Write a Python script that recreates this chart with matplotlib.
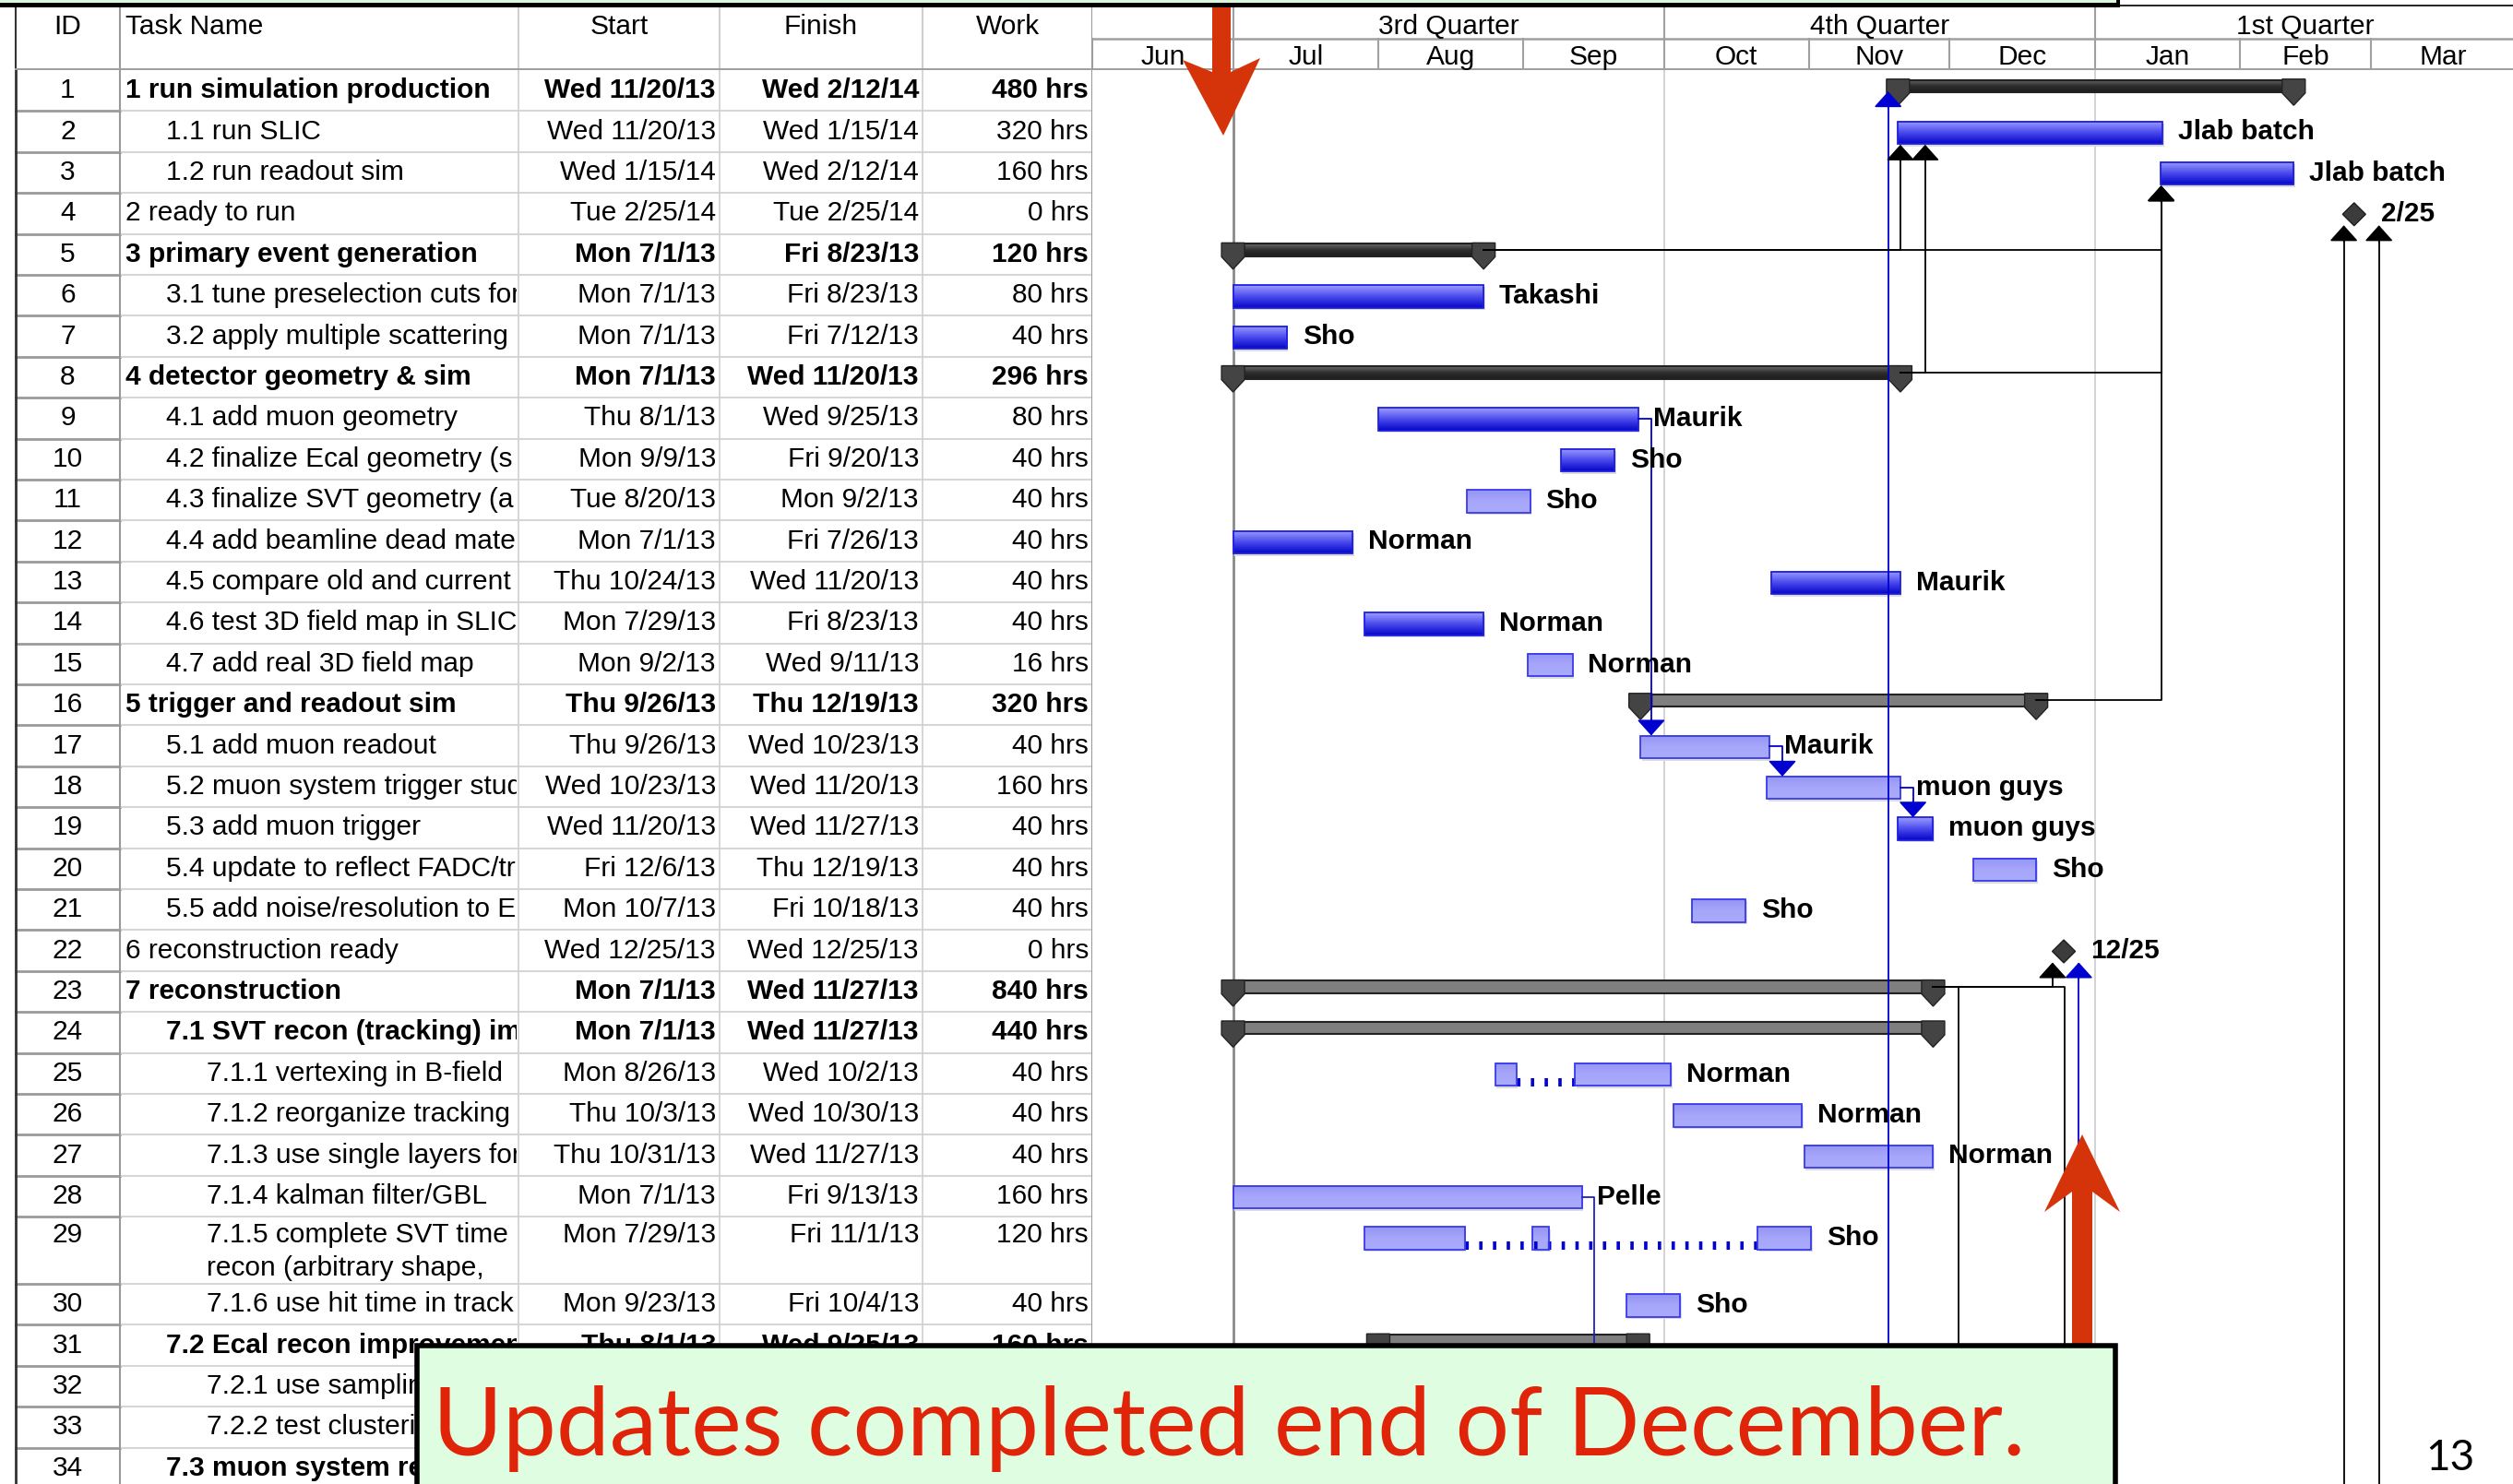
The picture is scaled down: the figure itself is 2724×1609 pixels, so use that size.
import datetime as dt
import numpy as np
import matplotlib
matplotlib.use('Agg')
import matplotlib.pyplot as plt
import matplotlib.dates as mdates
from matplotlib.colors import LinearSegmentedColormap
from matplotlib.patches import Rectangle, Polygon

plt.rcParams['font.family'] = ['Liberation Sans', 'DejaVu Sans']

# ---------------- data ----------------
task_names = [
    '1 run simulation production', '1.1 run SLIC', '1.2 run readout sim', '2 ready to run',
    '3 primary event generation', '3.1 tune preselection cuts for', '3.2 apply multiple scattering',
    '4 detector geometry & sim', '4.1 add muon geometry', '4.2 finalize Ecal geometry (s',
    '4.3 finalize SVT geometry (a', '4.4 add beamline dead mater', '4.5 compare old and current',
    '4.6 test 3D field map in SLIC', '4.7 add real 3D field map', '5 trigger and readout sim',
    '5.1 add muon readout', '5.2 muon system trigger stud', '5.3 add muon trigger',
    '5.4 update to reflect FADC/tr', '5.5 add noise/resolution to E', '6 reconstruction ready',
    '7 reconstruction', '7.1 SVT recon (tracking) im', '7.1.1 vertexing in B-field',
    '7.1.2 reorganize tracking', '7.1.3 use single layers for', '7.1.4 kalman filter/GBL',
    '7.1.5 complete SVT time\nrecon (arbitrary shape,', '7.1.6 use hit time in track',
    '7.2 Ecal recon improvemen', '7.2.1 use sampling', '7.2.2 test clustering', '7.3 muon system recon',
]
levels = [0, 1, 1, 0, 0, 1, 1, 0, 1, 1, 1, 1, 1, 1, 1, 0, 1, 1, 1, 1, 1, 0, 0, 1,
          2, 2, 2, 2, 2, 2, 1, 2, 2, 1]
start_txt = [
    'Wed 11/20/13', 'Wed 11/20/13', 'Wed 1/15/14', 'Tue 2/25/14', 'Mon 7/1/13', 'Mon 7/1/13',
    'Mon 7/1/13', 'Mon 7/1/13', 'Thu 8/1/13', 'Mon 9/9/13', 'Tue 8/20/13', 'Mon 7/1/13',
    'Thu 10/24/13', 'Mon 7/29/13', 'Mon 9/2/13', 'Thu 9/26/13', 'Thu 9/26/13', 'Wed 10/23/13',
    'Wed 11/20/13', 'Fri 12/6/13', 'Mon 10/7/13', 'Wed 12/25/13', 'Mon 7/1/13', 'Mon 7/1/13',
    'Mon 8/26/13', 'Thu 10/3/13', 'Thu 10/31/13', 'Mon 7/1/13', 'Mon 7/29/13', 'Mon 9/23/13',
    'Thu 8/1/13', '', '', '',
]
finish_txt = [
    'Wed 2/12/14', 'Wed 1/15/14', 'Wed 2/12/14', 'Tue 2/25/14', 'Fri 8/23/13', 'Fri 8/23/13',
    'Fri 7/12/13', 'Wed 11/20/13', 'Wed 9/25/13', 'Fri 9/20/13', 'Mon 9/2/13', 'Fri 7/26/13',
    'Wed 11/20/13', 'Fri 8/23/13', 'Wed 9/11/13', 'Thu 12/19/13', 'Wed 10/23/13', 'Wed 11/20/13',
    'Wed 11/27/13', 'Thu 12/19/13', 'Fri 10/18/13', 'Wed 12/25/13', 'Wed 11/27/13', 'Wed 11/27/13',
    'Wed 10/2/13', 'Wed 10/30/13', 'Wed 11/27/13', 'Fri 9/13/13', 'Fri 11/1/13', 'Fri 10/4/13',
    'Wed 9/25/13', '', '', '',
]
work_txt = [
    '480 hrs', '320 hrs', '160 hrs', '0 hrs', '120 hrs', '80 hrs', '40 hrs', '296 hrs', '80 hrs',
    '40 hrs', '40 hrs', '40 hrs', '40 hrs', '40 hrs', '16 hrs', '320 hrs', '40 hrs', '160 hrs',
    '40 hrs', '40 hrs', '40 hrs', '0 hrs', '840 hrs', '440 hrs', '40 hrs', '40 hrs', '40 hrs',
    '160 hrs', '120 hrs', '40 hrs', '160 hrs', '', '', '',
]
bold_rows = [1, 5, 8, 16, 23, 24, 31, 34]

bar_kind = [
    'sum_dark', 'dark', 'dark', 'mile', 'sum_dark', 'dark', 'dark', 'sum_dark', 'dark', 'dark',
    'light', 'dark', 'dark', 'dark', 'light', 'sum_gray', 'light', 'light', 'dark', 'light',
    'light', 'mile', 'sum_gray', 'sum_gray', 'light', 'light', 'light', 'light', 'light', 'light',
    'sum_gray', None, None, None,
]
resources = [
    '', 'Jlab batch', 'Jlab batch', '', '', 'Takashi', 'Sho', '', 'Maurik', 'Sho', 'Sho', 'Norman',
    'Maurik', 'Norman', 'Norman', '', 'Maurik', 'muon guys', 'muon guys', 'Sho', 'Sho', '', '', '',
    'Norman', 'Norman', 'Norman', 'Pelle', 'Sho', 'Sho', '', '', '', '',
]
split_parts = {
    25: [('8/26/13', '8/30/13'), ('9/12/13', '10/2/13')],
    29: [('7/29/13', '8/19/13'), ('9/3/13', '9/6/13'), ('10/21/13', '11/1/13')],
}
# links: (from row, to row, turn date, fraction of day, colour)
links = [
    (None, 1, '11/17/13', 0.9, '#0000d0'),
    (5, 2, '11/20/13', 0.5, 'black'),
    (8, 2, '11/25/13', 0.8, 'black'),
    (5, 3, '1/15/14', 0.2, 'black'),
    (8, 3, '1/15/14', 0.2, 'black'),
    (16, 3, '1/15/14', 0.2, 'black'),
    (None, 4, '2/23/14', 0.2, 'black'),
    (None, 4, '3/2/14', 0.7, 'black'),
    (9, 17, '9/28/13', 0.3, '#0000d0'),
    (17, 18, '10/26/13', 0.3, '#0000d0'),
    (18, 19, '11/23/13', 0.2, '#0000d0'),
    (23, 22, '12/23/13', 0.0, 'black'),
    (None, 22, '12/28/13', 0.6, '#0000d0'),
    (23, None, '12/2/13', 0.9, 'black'),
    (23, None, '12/25/13', 0.6, 'black'),
    (28, None, '9/16/13', 0.2, '#2020c0'),
]
quarters = [('3rd Quarter', '7/1/13', '10/1/13'), ('4th Quarter', '10/1/13', '1/1/14'),
            ('1st Quarter', '1/1/14', '4/1/14')]
months = ['Jun', 'Jul', 'Aug', 'Sep', 'Oct', 'Nov', 'Dec', 'Jan', 'Feb', 'Mar']
month_starts = ['6/1/13', '7/1/13', '8/1/13', '9/1/13', '10/1/13', '11/1/13', '12/1/13',
                '1/1/14', '2/1/14', '3/1/14', '4/1/14']

# ---------------- helpers ----------------
W, H = 2724, 1609
PX_DAY = 5.076


def fbox(x0, y0, x1, y1):
    return [x0 / W, 1 - y1 / H, (x1 - x0) / W, (y1 - y0) / H]


def num(s):
    m, d, y = s.split()[-1].split('/')
    return mdates.date2num(dt.datetime(2000 + int(y), int(m), int(d)))


row_h = [1.0] * 34
row_h[28] = 1.64
tops = np.concatenate([[0], np.cumsum(row_h)[:-1]])
YMAX = (H - 76) / 44.4

fig = plt.figure(figsize=(W / 100, H / 100), dpi=100, facecolor='white')

# ---------------- table ----------------
cols = [17, 130, 562, 780, 1000, 1184]
FS = 21.5
ax_h = fig.add_axes(fbox(0, 8, 1184, 76))
ax_h.set_xlim(0, 1184)
ax_h.set_ylim(68, 0)
ax_h.axis('off')
for x, c in zip(cols, ['#333333', '#999999', '#cfcfcf', '#cfcfcf', '#cfcfcf', '#999999']):
    ax_h.plot([x, x], [0, 68], color=c, lw=1.5)
ax_h.plot([17, 1184], [67, 67], color='#a0a0a0', lw=2.2)
ax_h.text(73.5, 21, 'ID', ha='center', va='center', fontsize=FS)
ax_h.text(136, 21, 'Task Name', ha='left', va='center', fontsize=FS)
ax_h.text(671, 21, 'Start', ha='center', va='center', fontsize=FS)
ax_h.text(890, 21, 'Finish', ha='center', va='center', fontsize=FS)
ax_h.text(1092, 21, 'Work', ha='center', va='center', fontsize=FS)

ax_t = fig.add_axes(fbox(0, 76, 1184, H))
ax_t.set_xlim(0, 1184)
ax_t.set_ylim(YMAX, 0)
ax_t.axis('off')
# task names live in their own axes so that they are cut at the column edge
ax_n = fig.add_axes(fbox(cols[1] + 2, 76, cols[2] - 2, H))
ax_n.set_xlim(cols[1] + 2, cols[2] - 2)
ax_n.set_ylim(YMAX, 0)
ax_n.axis('off')
for i in range(34):
    top, bot = tops[i], tops[i] + row_h[i]
    ax_t.plot([17, 130], [bot, bot], color='#9a9a9a', lw=2)
    ax_t.plot([130, 1184], [bot, bot], color='#d6d6d6', lw=1.5)
    w = 'bold' if (i + 1) in bold_rows else 'normal'
    yc = top + 0.5 if row_h[i] == 1 else top + 0.45
    ax_t.text(73.5, yc, str(i + 1), ha='center', va='center', fontsize=FS)
    for k, line in enumerate(task_names[i].split('\n')):
        ax_n.text(136 + 44 * levels[i], yc + 0.8 * k, line, ha='left', va='center',
                  fontsize=FS, fontweight=w, clip_on=True)
    ax_t.text(cols[3] - 4, yc, start_txt[i], ha='right', va='center', fontsize=FS, fontweight=w)
    ax_t.text(cols[4] - 4, yc, finish_txt[i], ha='right', va='center', fontsize=FS, fontweight=w)
    ax_t.text(cols[5] - 4, yc, work_txt[i], ha='right', va='center', fontsize=FS, fontweight=w)
for x, c, lw in zip(cols, ['#333333', '#999999', '#d0d0d0', '#d0d0d0', '#d0d0d0', '#999999'],
                    [2, 1.5, 1.2, 1.2, 1.2, 1.5]):
    ax_t.plot([x, x], [0, YMAX], color=c, lw=lw)

# ---------------- gantt ----------------
X0 = num('6/1/13') - 0.06
X1 = X0 + (W - 1184) / PX_DAY

ax_gh = fig.add_axes(fbox(1184, 8, W, 76))
ax_gh.set_xlim(X0, X1)
ax_gh.set_ylim(2, 0)
ax_gh.axis('off')
ax_gh.plot([X0, X1], [1, 1], color='#a0a0a0', lw=1.8)
ax_gh.plot([X0, X1], [1.98, 1.98], color='#a0a0a0', lw=2.2)
for name, a, b in quarters:
    ax_gh.plot([num(a), num(a)], [0, 1], color='#a0a0a0', lw=1.5)
    ax_gh.text((num(a) + num(b)) / 2, 0.62, name, ha='center', va='center', fontsize=FS)
for k, name in enumerate(months):
    a, b = num(month_starts[k]), num(month_starts[k + 1])
    ax_gh.plot([a, a], [1, 2], color='#a0a0a0', lw=1.5)
    ax_gh.text((a + b) / 2, 1.6, name, ha='center', va='center', fontsize=FS)

ax = fig.add_axes(fbox(1184, 76, W, H))
ax.axis('off')
ax.axvline(num('7/1/13'), color='#8a8a8a', lw=2, zorder=1)
for q in ['10/1/13', '1/1/14']:
    ax.axvline(num(q), color='#c8c8c8', lw=1.1, zorder=1)

cm_dark = LinearSegmentedColormap.from_list('dk', ['#9c9cff', '#4a4aee', '#0606c8'])
cm_light = LinearSegmentedColormap.from_list('lt', ['#9595f5', '#a6a6fa', '#ababfc'])
cm_sum = LinearSegmentedColormap.from_list('sm', ['#6a6a6a', '#2e2e2e', '#1c1c1c'])
grad = np.linspace(0, 1, 40).reshape(-1, 1)
HW = 12.5 / PX_DAY


def task_bar(x0, x1, top, cmap, edge):
    ax.add_patch(Rectangle((x0 + 0.3, top + 0.3), x1 - x0, 0.56, color='#dcdcdc', zorder=2, lw=0))
    ax.imshow(grad, extent=(x0, x1, top + 0.80, top + 0.25), aspect='auto', cmap=cmap,
              interpolation='bilinear', zorder=3)
    ax.add_patch(Rectangle((x0, top + 0.25), x1 - x0, 0.55, fill=False, ec=edge, lw=1.3, zorder=4))


def cap(xc, top):
    ax.add_patch(Polygon([(xc - HW, top + 0.22), (xc + HW, top + 0.22), (xc + HW, top + 0.56),
                          (xc, top + 0.86), (xc - HW, top + 0.56)],
                         fc='#444444', ec='#222222', lw=1, zorder=5))


def end_x(r):
    return num(finish_txt[r - 1]) + 0.5


for i in range(34):
    kind = bar_kind[i]
    if kind is None:
        continue
    top = tops[i]
    s, e = num(start_txt[i]), end_x(i + 1)
    label_x = e
    if kind.startswith('sum'):
        if kind == 'sum_dark':
            ax.imshow(grad, extent=(s, e, top + 0.54, top + 0.24), aspect='auto', cmap=cm_sum,
                      interpolation='bilinear', zorder=3)
        else:
            ax.add_patch(Rectangle((s, top + 0.24), e - s, 0.30, fc='#7f7f7f', lw=0, zorder=3))
        ax.plot([s, e], [top + 0.24, top + 0.24], color='#222222', lw=1.5, zorder=4)
        ax.plot([s, e], [top + 0.54, top + 0.54], color='#222222', lw=1.5, zorder=4)
        cap(s, top)
        cap(e, top)
    elif kind == 'mile':
        xc = num(start_txt[i]) + 0.4
        ax.add_patch(Polygon([(xc, top + 0.24), (xc + HW, top + 0.52), (xc, top + 0.80),
                              (xc - HW, top + 0.52)], fc='#3c3c3c', ec='#1e1e1e', lw=1, zorder=5))
        label_x = xc + HW
        m, d = start_txt[i].split()[-1].split('/')[:2]
        ax.annotate(f'{m}/{d}', (label_x, top + 0.52), xytext=(12, 0), textcoords='offset points',
                    ha='left', va='center', fontsize=FS, fontweight='bold', zorder=7)
        continue
    else:
        cmap = cm_dark if kind == 'dark' else cm_light
        edge = '#2020e0' if kind == 'dark' else '#3a3aea'
        parts = split_parts.get(i + 1)
        if parts:
            segs = [(num(a), num(b) + 0.5) for a, b in parts]
            for a, b in segs:
                task_bar(a, b, top, cmap, edge)
            ax.plot([segs[0][1], segs[-1][0]], [top + 0.70, top + 0.70], color='#0000d0', lw=6.5,
                    dashes=(0.4, 1.25), zorder=3.5, solid_capstyle='butt', dash_capstyle='butt')
        else:
            task_bar(s, e, top, cmap, edge)
    if resources[i]:
        ax.annotate(resources[i], (label_x, top + 0.52), xytext=(12, 0), textcoords='offset points',
                    ha='left', va='center', fontsize=FS, fontweight='bold', zorder=7)

AH = dict(arrowstyle='-|>,head_length=1.08,head_width=0.97', mutation_scale=10, lw=1.2,
          shrinkA=0, shrinkB=0)
for src, dst, turn, frac, col in links:
    xt = num(turn) + frac
    if src is None:
        pts = [(xt, YMAX + 1)]
    else:
        ys = tops[src - 1] + (0.39 if bar_kind[src - 1].startswith('sum') else 0.52)
        pts = [(end_x(src), ys), (xt, ys)]
    if dst is None:
        pts.append((xt, YMAX + 1))
        ax.plot(*zip(*pts), color=col, lw=1.3, zorder=6)
        continue
    kd = bar_kind[dst - 1]
    if src is not None and dst > src:
        ytip, back = tops[dst - 1] + 0.25, -0.4
    else:
        off = 0.52 if kd.startswith('sum') else (0.79 if kd == 'mile' else 0.82)
        ytip, back = tops[dst - 1] + off, 0.4
    pts.append((xt, ytip + back))
    ax.plot(*zip(*pts), color=col, lw=1.3, zorder=6)
    ax.annotate('', xy=(xt, ytip), xytext=(xt, ytip + back),
                arrowprops=dict(AH, color=col), zorder=6)

ax.set_xlim(X0, X1)
ax.set_ylim(YMAX, 0)

# ---------------- slide overlay ----------------
ov = fig.add_axes([0, 0, 1, 1], zorder=10)
ov.set_xlim(0, W)
ov.set_ylim(H, 0)
ov.axis('off')
ov.patch.set_visible(False)
ov.add_patch(Rectangle((0, 0), 2298, 3, fc='#dcf7dc', lw=0))
ov.add_patch(Rectangle((0, 2.5), 2298, 5.5, fc='black', lw=0))
ov.add_patch(Rectangle((2294, 0), 4, 8, fc='black', lw=0))
ov.plot([2298, W], [5.5, 5.5], color='black', lw=1.2)
red = '#d5340a'
ov.add_patch(Polygon([(1314, 8), (1334, 8), (1334, 78), (1366, 63), (1326, 147), (1282, 65),
                      (1314, 78)], fc=red, lw=0))
ov.add_patch(Polygon([(2257, 1230), (2298, 1314), (2268, 1292), (2268, 1462), (2246, 1462),
                      (2246, 1292), (2216, 1314)], fc=red, lw=0))
ov.add_patch(Rectangle((452, 1459), 1841, 170, fc='#dffde1', ec='black', lw=4))
ov.text(469, 1578, 'Updates completed end of December.', ha='left', va='baseline',
        fontsize=74.4, color='#e0240a', family=['Lato', 'DejaVu Sans'])
ov.text(2656, 1594, '13', ha='center', va='baseline', fontsize=33, color='black',
        family=['Lato', 'DejaVu Sans'])

fig.savefig('out.png', dpi=100, facecolor='white')
